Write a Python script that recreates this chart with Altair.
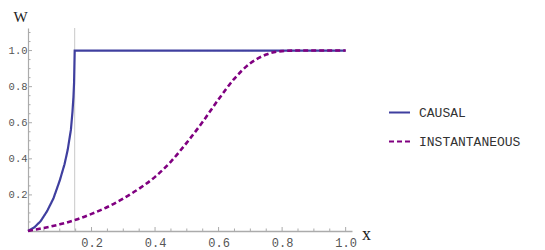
import altair as alt
import pandas as pd

# ---- data ----
series_names = ["CAUSAL", "INSTANTANEOUS"]
series_colors = ["#3f3f9f", "#800080"]

causal_x = [0.0, 0.02, 0.04, 0.06, 0.08, 0.10, 0.115, 0.125, 0.135, 0.14, 0.143, 0.145, 0.147, 1.0]
causal_y = [0.0, 0.02, 0.055, 0.11, 0.18, 0.28, 0.37, 0.45, 0.56, 0.66, 0.74, 0.82, 1.0, 1.0]

inst_x = [0.0, 0.05, 0.1, 0.15, 0.2, 0.25, 0.3, 0.35, 0.4, 0.45, 0.5, 0.55, 0.6, 0.65, 0.7, 0.75, 0.8, 0.85, 0.9, 0.95, 1.0]
inst_y = [0.0, 0.017, 0.037, 0.062, 0.095, 0.133, 0.18, 0.235, 0.30, 0.385, 0.49, 0.605, 0.73, 0.845, 0.93, 0.978, 0.997, 1.0, 1.0, 1.0, 1.0]

switch_x = [0.147]

x_major = [0.2, 0.4, 0.6, 0.8, 1.0]
y_major = [0.2, 0.4, 0.6, 0.8, 1.0]
x_minor = [0.05, 0.1, 0.15, 0.25, 0.3, 0.35, 0.45, 0.5, 0.55, 0.65, 0.7, 0.75, 0.85, 0.9, 0.95]
y_minor = [0.05, 0.1, 0.15, 0.25, 0.3, 0.35, 0.45, 0.5, 0.55, 0.65, 0.7, 0.75, 0.85, 0.9, 0.95, 1.05, 1.1]

causal_df = pd.DataFrame({"x": causal_x, "y": causal_y, "series": "CAUSAL",
                          "idx": list(range(len(causal_x)))})
inst_df = pd.DataFrame({"x": inst_x, "y": inst_y, "series": "INSTANTANEOUS",
                        "idx": list(range(len(inst_x)))})

W = 324
H = 203
AXIS_GRAY = "#ababab"

xs = alt.Scale(domain=[0, 1.02], nice=False, zero=False)
ys = alt.Scale(domain=[0, 1.125], nice=False, zero=False)

x_axis = alt.Axis(values=x_major, format=".1f", ticks=False, grid=False,
                  domainColor=AXIS_GRAY, domainWidth=1.5,
                  labelFont="Liberation Mono", labelFontSize=12, labelColor="#555555",
                  labelPadding=6, labelFlush=False, labelOverlap=False,
                  title="x", titleFont="Liberation Serif", titleFontSize=18,
                  titleFontWeight="normal", titleColor="#222222",
                  titleX=338, titleY=3, titleBaseline="middle", titleAlign="center")
y_axis = alt.Axis(values=y_major, format=".1f", ticks=False, grid=False,
                  domainColor=AXIS_GRAY, domainWidth=1.2,
                  labelFont="Liberation Mono", labelFontSize=10.5, labelColor="#555555",
                  labelPadding=1, labelFlush=False, labelOverlap=False,
                  title="W", titleFont="Liberation Serif", titleFontSize=15,
                  titleFontWeight="normal", titleColor="#222222", titleAngle=0,
                  titleX=-8, titleY=-12, titleBaseline="middle", titleAlign="center")

X = lambda f: alt.X(f, type="quantitative", scale=xs, axis=x_axis)
Y = lambda f: alt.Y(f, type="quantitative", scale=ys, axis=y_axis)

legend = alt.Legend(title=None, orient="none", legendX=360, legendY=73,
                    symbolType="stroke", symbolSize=441, symbolStrokeWidth=2,
                    labelFont="Liberation Mono", labelFontSize=13, labelColor="#333333",
                    labelOffset=8, rowPadding=10, padding=0)

color = alt.Color("series:N", scale=alt.Scale(domain=series_names, range=series_colors), legend=legend)
dash = alt.StrokeDash("series:N", scale=alt.Scale(domain=series_names, range=[[1, 0], [5, 3]]), legend=legend)

# ticks (inward, Mathematica style)
xmaj = alt.Chart(pd.DataFrame({"t": x_major})).mark_rule(color=AXIS_GRAY, strokeWidth=1).encode(
    x=X("t"), y=alt.value(H), y2=alt.value(H - 4))
xmin = alt.Chart(pd.DataFrame({"t": x_minor})).mark_rule(color=AXIS_GRAY, strokeWidth=1).encode(
    x=X("t"), y=alt.value(H), y2=alt.value(H - 2.5))
ymaj = alt.Chart(pd.DataFrame({"t": y_major})).mark_rule(color=AXIS_GRAY, strokeWidth=1).encode(
    y=Y("t"), x=alt.value(0), x2=alt.value(4))
ymin = alt.Chart(pd.DataFrame({"t": y_minor})).mark_rule(color=AXIS_GRAY, strokeWidth=1).encode(
    y=Y("t"), x=alt.value(0), x2=alt.value(2.5))

vline = alt.Chart(pd.DataFrame({"t": switch_x})).mark_rule(color="#c8c8c8", strokeWidth=1).encode(
    x=X("t"), y=alt.value(0), y2=alt.value(H))

causal = alt.Chart(causal_df).mark_line(strokeWidth=2.2).encode(
    x=X("x"), y=Y("y"), color=color, strokeDash=dash, order="idx:Q")
inst = alt.Chart(inst_df).mark_line(strokeWidth=2.6, interpolate="monotone").encode(
    x=X("x"), y=Y("y"), color=color, strokeDash=dash, order="idx:Q")

chart = alt.layer(vline, xmin, xmaj, ymin, ymaj, causal, inst).properties(
    width=W, height=H,
    padding={"left": 20, "top": 20, "right": 185, "bottom": 19},
    autosize=alt.AutoSizeParams(type="none"),
).configure_view(stroke=None)

chart.save("out.html", embed_options={"renderer": "svg", "actions": False})
